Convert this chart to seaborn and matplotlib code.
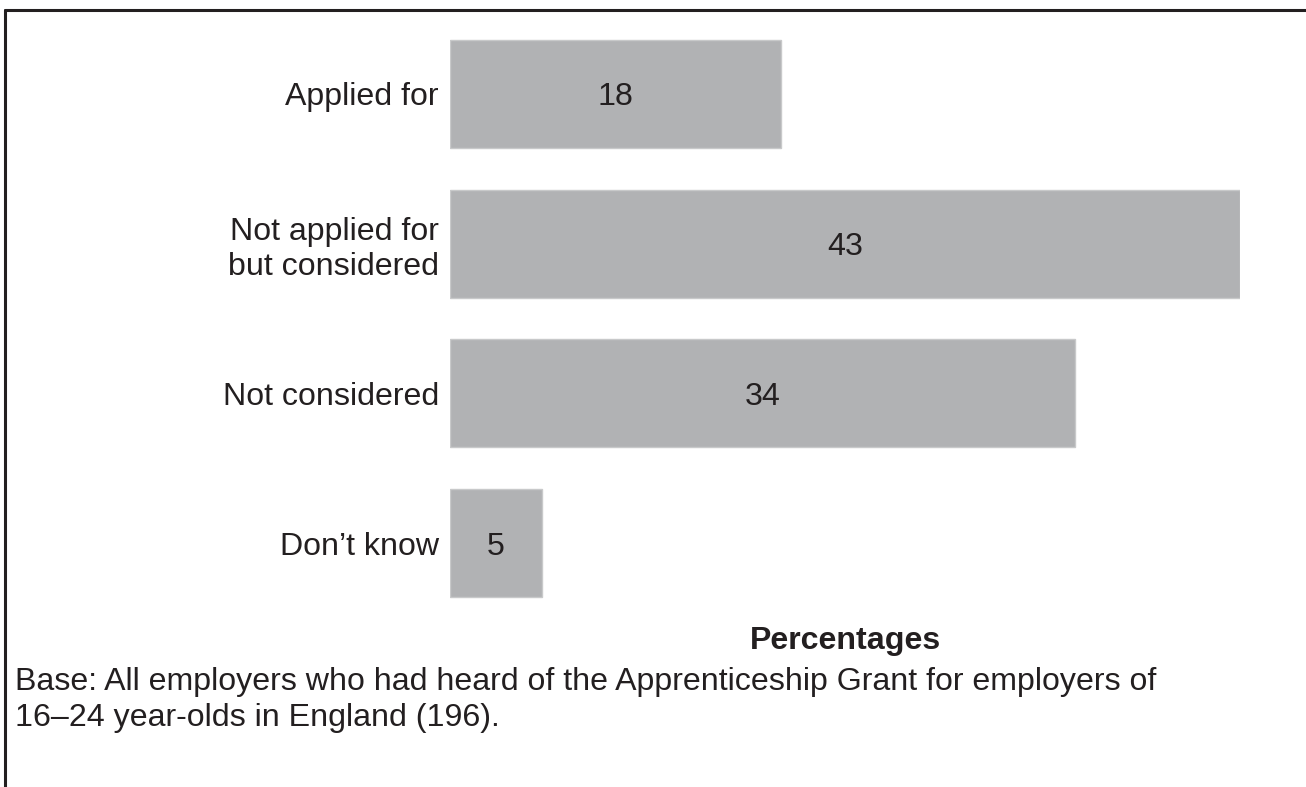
import matplotlib
matplotlib.use("Agg")
import matplotlib.pyplot as plt
import seaborn as sns
import pandas as pd

categories = ["Applied for", "Not applied for\nbut considered", "Not considered", "Don\u2019t know"]
values = [18, 43, 34, 5]
axis_title = "Percentages"
base_note = ("Base: All employers who had heard of the Apprenticeship Grant for employers of\n"
             "16\u201324 year-olds in England (196).")

sns.set_theme(style="white")
plt.rcParams["font.family"] = ["Liberation Sans", "DejaVu Sans"]

FS = 23.1
INK = "#231f20"

W, H = 1306, 787
fig = plt.figure(figsize=(W / 100, H / 100), dpi=100)
ax = fig.add_axes([450 / W, 1 - 618 / H, (1240 - 450) / W, (618 - 19) / H])

df = pd.DataFrame({"category": categories, "value": values})
sns.barplot(data=df, x="value", y="category", orient="h", color="#b1b2b4",
            saturation=1, width=0.72, edgecolor="#c8c9ca", linewidth=1, ax=ax)

ax.set_xlim(0, 43)
for side in ax.spines.values():
    side.set_visible(False)
ax.set_xticks([])
ax.set_xlabel("")
ax.set_ylabel("")
ax.tick_params(axis="y", length=0, pad=8, labelsize=FS, labelcolor=INK)
for lbl in ax.get_yticklabels():
    lbl.set_horizontalalignment("right")
    lbl.set_multialignment("right")
    lbl.set_linespacing(1.2)

for bar, v in zip(ax.patches, values):
    ax.text(bar.get_x() + bar.get_width() / 2, bar.get_y() + bar.get_height() / 2,
            str(v), ha="center", va="center_baseline", fontsize=FS, color=INK)

fig.text(845 / W, 1 - 641 / H, axis_title, ha="center", va="center",
         fontsize=FS, fontweight="bold", color=INK)
fig.text(15 / W, 1 - 700 / H, base_note, ha="left", va="center",
         fontsize=FS, color=INK, linespacing=1.25)

# frame: top and left rules
fig.add_artist(plt.Line2D([5 / W, 1], [1 - 10 / H, 1 - 10 / H], color=INK, lw=2.2))
fig.add_artist(plt.Line2D([5 / W, 5 / W], [1 - 10 / H, 0], color=INK, lw=2.2))

fig.savefig("out.png", dpi=100, facecolor="white")
